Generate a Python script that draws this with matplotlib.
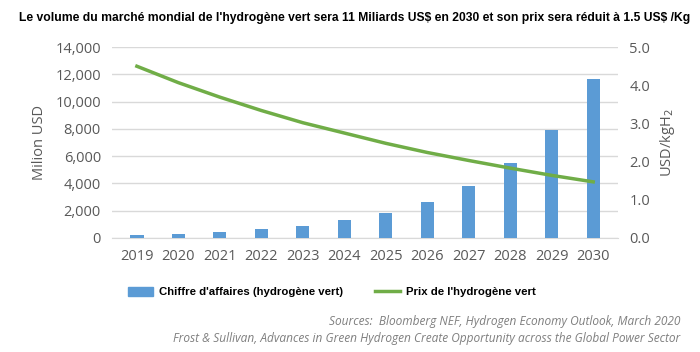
import numpy as np
import matplotlib.pyplot as plt
from matplotlib.patches import Patch
from matplotlib.lines import Line2D

years = ['2019', '2020', '2021', '2022', '2023', '2024', '2025', '2026', '2027', '2028', '2029', '2030']
revenue = [200, 300, 440, 630, 880, 1290, 1850, 2640, 3810, 5520, 7950, 11630]
price = [4.5, 4.07, 3.69, 3.34, 3.02, 2.75, 2.48, 2.24, 2.03, 1.83, 1.64, 1.47]

title = "Le volume du marché mondial de l'hydrogène vert sera 11 Miliards US\\$ en 2030 et son prix sera réduit à 1.5 US\\$ /Kg"
sources = ["Sources:  Bloomberg NEF, Hydrogen Economy Outlook, March 2020",
           "Frost & Sullivan, Advances in Green Hydrogen Create Opportunity across the Global Power Sector"]

bar_color = '#5B9BD5'
line_color = '#70AD47'
tick_color = '#595959'
tick_font = 'Open Sans'
bold_font = 'Liberation Sans'

fig = plt.figure(figsize=(7, 3.52), dpi=100)
ax = fig.add_axes([0.16, 0.324, 0.723, 0.542])
x = np.arange(len(years))

ax.bar(x, revenue, width=0.32, color=bar_color, zorder=3)
ax.set_ylim(0, 14000)
ax.set_yticks(np.arange(0, 14001, 2000))
ax.set_yticklabels([f'{v:,}' for v in range(0, 14001, 2000)])
ax.set_xlim(-0.6, len(years) - 0.4)
ax.set_xticks(x)
ax.set_xticklabels(years)
ax.grid(axis='y', color='#D9D9D9', linewidth=1, zorder=0)
for s in ['top', 'right', 'left']:
    ax.spines[s].set_visible(False)
ax.spines['bottom'].set_color('#D9D9D9')
ax.tick_params(axis='both', length=0, colors=tick_color, labelsize=10.5, pad=8)
for lab in ax.get_xticklabels() + ax.get_yticklabels():
    lab.set_fontfamily(tick_font)
ax.set_ylabel('Milion USD', color=tick_color, fontsize=10.5, fontfamily=tick_font, labelpad=6)

ax2 = ax.twinx()
ax2.plot(x, price, color=line_color, linewidth=2.5, zorder=4)
ax2.set_ylim(0, 5)
ax2.set_yticks(np.arange(0, 5.01, 1))
ax2.set_yticklabels([f'{v:.1f}' for v in np.arange(0, 5.01, 1)])
for s in ['top', 'right', 'left', 'bottom']:
    ax2.spines[s].set_visible(False)
ax2.tick_params(axis='y', length=0, colors=tick_color, labelsize=10.5, pad=8)
for lab in ax2.get_yticklabels():
    lab.set_fontfamily(tick_font)
ax2.set_ylabel('USD/kgH$_2$', color=tick_color, fontsize=10.5, fontfamily=tick_font, labelpad=6)

fig.text(0.507, 0.948, title, ha='center', va='center', fontsize=8.7, fontweight='bold',
         fontfamily=bold_font)

handles = [Patch(color=bar_color), Line2D([0], [0], color=line_color, linewidth=2.5)]
labels = ["Chiffre d'affaires (hydrogène vert)", "Prix de l'hydrogène vert"]
fig.legend(handles, labels, loc='center left', bbox_to_anchor=(0.183, 0.17), ncol=2, frameon=False,
           prop={'family': bold_font, 'weight': 'bold', 'size': 8.2},
           handlelength=2.2, handleheight=0.8, columnspacing=2.8, handletextpad=0.5,
           borderpad=0, borderaxespad=0)

fig.text(0.972, 0.088, sources[0], ha='right', va='center', fontsize=8.6, style='italic',
         color='#7F7F7F', fontfamily=tick_font)
fig.text(0.972, 0.038, sources[1], ha='right', va='center', fontsize=8.6, style='italic',
         color='#7F7F7F', fontfamily=tick_font)

fig.savefig('out.png', dpi=100)
